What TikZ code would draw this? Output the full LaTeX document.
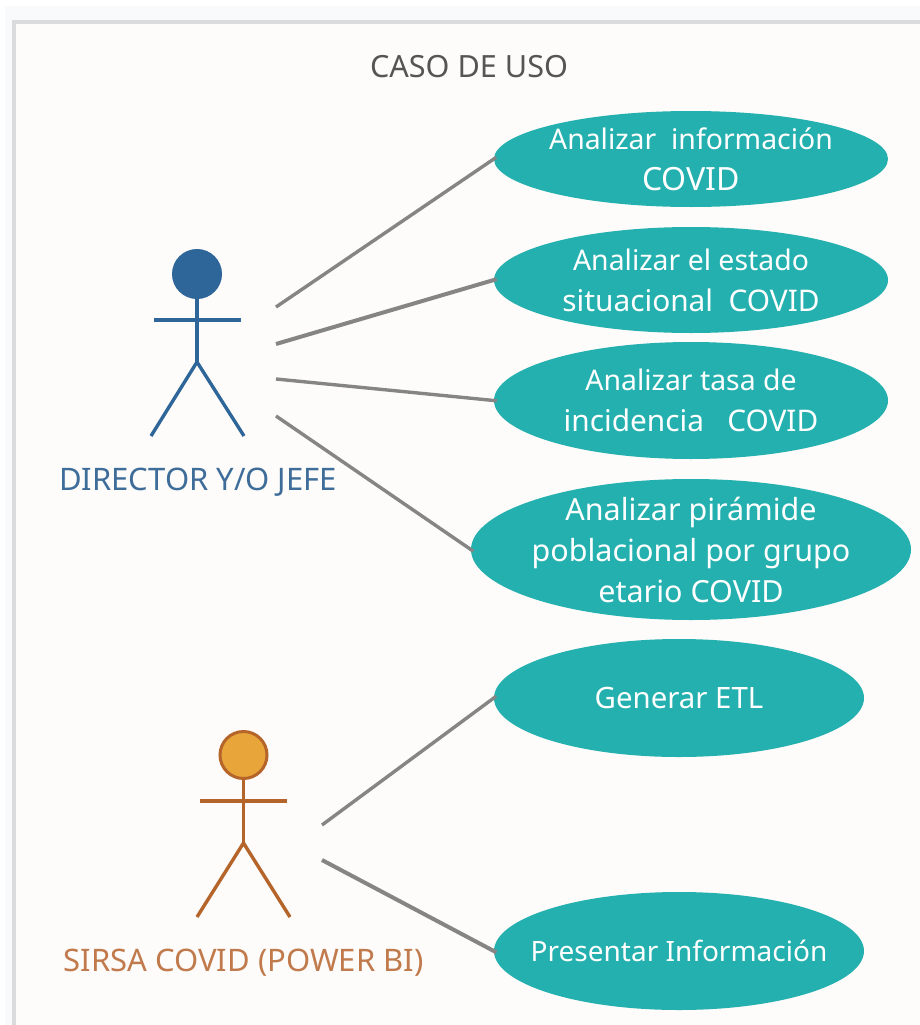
\documentclass[tikz,border=0pt]{standalone}
\usepackage{fontspec}
\usetikzlibrary{shapes.geometric}
\setmainfont{Noto Sans}
\newcommand{\sz}[2]{{\fontsize{#1}{41}\selectfont #2}}
\definecolor{pagebg}{HTML}{F9FAFC}
\definecolor{framebg}{HTML}{FDFCFA}
\definecolor{frameline}{HTML}{DADBDC}
\definecolor{teal}{HTML}{23B0AF}
\definecolor{linegray}{HTML}{858585}
\definecolor{blueact}{HTML}{2F6699}
\definecolor{bluetxt}{HTML}{3F6D9A}
\definecolor{orgline}{HTML}{B5642A}
\definecolor{orgfill}{HTML}{E8A53A}
\definecolor{orgtxt}{HTML}{C07A4C}
\definecolor{titletxt}{HTML}{555555}
\begin{document}
\begin{tikzpicture}[x=1pt,y=-1pt,
  usecase/.style={ellipse,fill=teal,text=white,align=center,inner sep=-30pt,
    font=\fontsize{28.4}{41}\selectfont},
  bigcase/.style={usecase,minimum width=394pt},
  smallcase/.style={usecase,minimum width=370pt,minimum height=118pt},
  assoc/.style={draw=linegray,line width=3.4pt,shorten >=-3pt},
  limb/.style={line width=3.4pt},
  actorlabel/.style={font=\fontsize{31}{32}\selectfont,inner sep=0pt}]
\useasboundingbox (0,0) rectangle (920,1025);
\fill[white] (0,0) rectangle (920,1025);
\fill[pagebg] (5,6) rectangle (920,1025);
\fill[framebg] (14,22) rectangle (920,1025);
\draw[frameline,line width=3.5pt] (14,1025) -- (14,22) -- (920,22);

\node[font=\fontsize{30.6}{32}\selectfont,text=titletxt,inner sep=0pt] (title) at (469,67) {CASO DE USO};

\node[bigcase,minimum height=96pt] (e1) at (691,159) {Analizar~~información\\\sz{32}{COVID}};
\node[bigcase,minimum height=106pt] (e2) at (691,280) {Analizar el estado\\\sz{29.8}{situacional~~COVID}};
\node[bigcase,minimum height=117pt] (e3) at (691,400.5) {Analizar tasa de\\\sz{29.8}{incidencia~~~COVID}};
\node[usecase,minimum width=440pt,minimum height=141pt] (e4) at (691,549.5) {\sz{30.5}{Analizar pirámide}\\\sz{30.5}{poblacional por grupo}\\\sz{30.5}{etario COVID}};
\node[smallcase] (e5) at (679,698) {\sz{29.4}{Generar ETL}};
\node[smallcase] (e6) at (679,951) {\sz{28}{Presentar Información}};

% Actor 1
\node[circle,fill=blueact,draw=blueact,line width=1pt,minimum size=49pt,inner sep=0pt] (h1) at (197,274) {};
\coordinate (hip1) at (197,362);
\draw[blueact,limb] (h1.south) -- (hip1);
\draw[blueact,limb] (154,320) -- (241,320);
\draw[blueact,limb] (151,436) -- (hip1) -- (244,436);
\node[actorlabel,text=bluetxt] (l1) at (198,482) {DIRECTOR Y/O JEFE};

% Actor 2
\node[circle,fill=orgfill,draw=orgline,line width=3pt,minimum size=47pt,inner sep=0pt] (h2) at (243.5,755) {};
\coordinate (hip2) at (243.5,843);
\draw[orgline,limb] (h2.south) -- (hip2);
\draw[orgline,limb] (200,801) -- (287,801);
\draw[orgline,limb] (197,917) -- (hip2) -- (290,917);
\node[actorlabel,text=orgtxt] (l2) at (243.5,962.5) {SIRSA COVID (POWER BI)};

% Connectors
\coordinate (a1) at (276,307);
\coordinate (a2) at (276,344);
\coordinate (a3) at (276,379);
\coordinate (a4) at (276,416);
\coordinate (b1) at (322,825);
\coordinate (b2) at (322,860);
\draw[assoc] (a1) -- (e1.west);
\draw[assoc,line width=4pt] (a2) -- (e2.west);
\draw[assoc] (a3) -- (e3.west);
\draw[assoc] (a4) -- (e4.west);
\draw[assoc] (b1) -- (e5.west);
\draw[assoc,line width=4pt] (b2) -- (e6.west);
\end{tikzpicture}
\end{document}
